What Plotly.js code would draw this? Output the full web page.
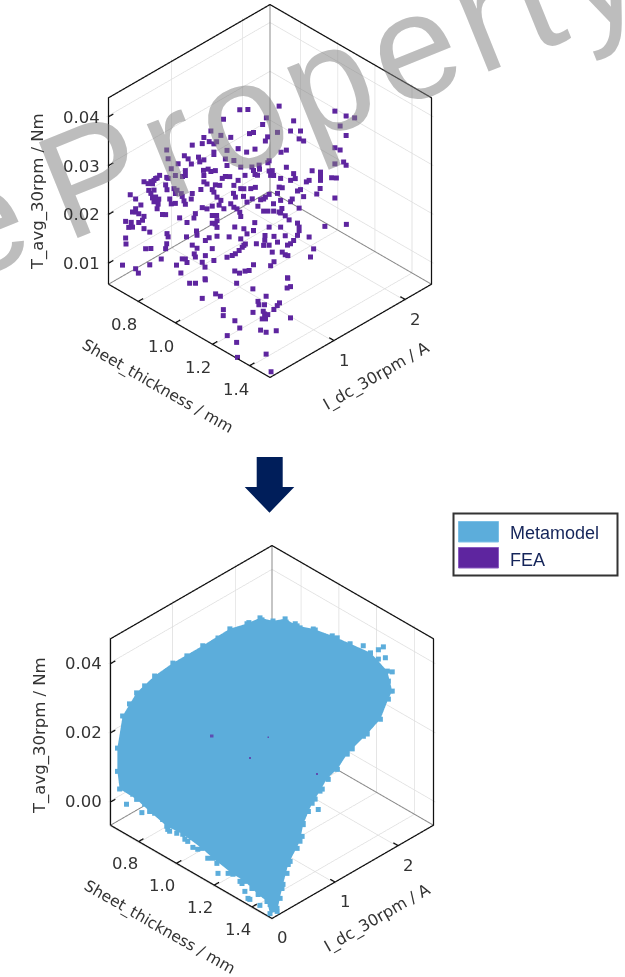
<!DOCTYPE html>
<html><head><meta charset="utf-8"><script src="https://cdn.plot.ly/plotly-3.0.1.min.js"></script>
<style>html,body{margin:0;padding:0;background:#fff}</style></head><body><div id="c" style="width:625px;height:977px"></div>
<script>
const W=625,H=977;
const xTitle='Sheet_thickness / mm',yTitle='I_dc_30rpm / A',zTitle='T_avg_30rpm / Nm';
const sheetTicks=[0.8,1.0,1.2,1.4];
const idcTicks1=[1,2],idcTicks2=[0,1,2];
const torqueTicks1=[0.01,0.02,0.03,0.04],torqueTicks2=[0,0.02,0.04];
const range1={x:[0.64,1.51],y:[0.1,2.37],z:[0.0057,0.0439]};
const range2={x:[0.651,1.506],y:[0,2.56],z:[-0.0067,0.0472]};

// FEA samples, upper chart
const feaSheet=[.994,1.015,1.099,1.250,1.280,1.303,1.263,.949,1.065,1.056,
1.139,1.130,1.157,1.094,1.280,1.020,1.030,1.068,1.063,.915,
.942,.969,.897,.892,.910,.924,.931,.865,1.153,1.166,
1.250,1.263,.989,.960,1.012,1.034,1.105,1.119,.924,.924,
.796,.800,.845,.854,.883,.897,.886,.864,.955,.978,
1.072,1.069,1.250,1.274,1.280,.996,.960,1.025,1.030,1.045,
1.047,1.119,1.189,1.211,1.211,1.211,1.139,1.240,1.254,.809,
.827,.847,.820,.839,.847,.796,.800,.895,.908,.928,
.897,.915,.946,.955,.967,.989,1.007,1.034,1.040,1.072,
1.081,1.076,1.085,1.103,1.130,1.144,1.180,1.173,.777,.767,
.762,.753,.735,.746,.758,.771,.749,.762,.753,.758,
.767,.776,.762,.773,.771,.699,.713,.794,.798,.816,
.825,.820,.836,.838,.805,.809,.820,.843,.847,.865,
.863,.888,.897,.906,.928,.919,.924,.940,.933,.942,
.951,.978,.976,.982,.996,1.005,1.003,1.023,1.036,1.014,
1.027,1.042,1.058,1.049,1.072,1.063,1.094,1.099,1.108,1.157,
1.148,1.135,1.130,1.166,1.198,1.209,1.250,1.084,1.103,1.106,
1.099,1.103,1.058,1.069,1.085,1.153,.969,.978,.987,.994,
.996,.937,.919,.931,.933,.928,.919,.933,.892,.906,
.919,.874,.870,.831,.852,.785,.794,.726,.713,.704,
.722,.713,.735,.731,.722,.701,.686,.695,.704,.735,
.751,1.117,1.126,1.148,1.153,1.033,.979,1.005,1.014,1.030,
1.072,1.103,1.223,1.281,.876,.879,.849,.686,.688,.798,
.800,.796,.794,.740,.753,.933,.910,.901,.964,.996,
1.009,1.005,1.000,.991,.982,.973,.960,1.061,1.060,1.072,
1.058,1.038,1.094,1.083,1.117,1.153,1.148,1.180,1.139,1.130,
1.121,.865,.883,.919,.901,.872,.874,.847,.838,.852,
.782,.751,.677,.713,.720,.822,.834,.892,.899,.924,
.979,.993,1.007,1.018,1.030,1.083,1.076,1.081,1.108,1.117,
1.123,1.193,1.184,1.121,.899,
.878,.894,.905,1.005,1.075,1.119,1.163,1.166,.983,.998,1.022,1.145,1.147,1.165,1.18,1.212,1.219,1.228,1.092,1.12,
1.185,1.207,1.224,1.235,1.24,1.249,1.312,1.175,1.222,1.288,1.313,1.333,1.224,1.281,1.415,1.333,1.504];
const feaIdc=[1.02,1.08,1.30,1.69,1.77,1.83,1.73,.91,1.21,1.18,
1.40,1.38,1.45,1.29,1.77,1.09,1.12,1.22,1.20,.82,
.89,.96,.77,.76,.81,.84,.86,.69,1.44,1.47,
1.69,1.73,1.01,.93,1.07,1.13,1.31,1.35,.84,.84,
.51,.52,.63,.66,.73,.77,.74,.68,.92,.98,
1.23,1.22,1.69,1.75,1.77,1.03,.93,1.11,1.12,1.16,
1.16,1.35,1.53,1.59,1.59,1.59,1.40,1.67,1.70,.54,
.59,.64,.57,.62,.64,.51,.52,.77,.80,.85,
.77,.82,.90,.92,.95,1.01,1.06,1.13,1.15,1.23,
1.25,1.24,1.26,1.31,1.38,1.41,1.51,1.49,.46,.43,
.42,.40,.35,.38,.41,.44,.38,.42,.40,.41,
.43,.45,.42,.45,.44,.25,.29,.50,.51,.56,
.58,.57,.61,.62,.53,.54,.57,.63,.64,.69,
.68,.75,.77,.79,.85,.83,.84,.88,.86,.89,
.91,.98,.98,.99,1.03,1.05,1.05,1.10,1.13,1.07,
1.11,1.15,1.19,1.17,1.23,1.20,1.29,1.30,1.32,1.45,
1.43,1.39,1.38,1.47,1.57,1.59,1.69,1.26,1.31,1.32,
1.30,1.31,1.19,1.22,1.26,1.44,.96,.98,1.00,1.02,
1.03,.88,.83,.86,.86,.85,.83,.86,.76,.79,
.83,.71,.70,.60,.65,.48,.50,.33,.29,.27,
.31,.29,.35,.34,.31,.26,.22,.24,.27,.35,
.39,1.34,1.37,1.43,1.44,1.13,.99,1.05,1.07,1.12,
1.23,1.31,1.62,1.77,.72,.72,.65,.22,.22,.51,
.52,.51,.50,.36,.40,.86,.81,.78,.95,1.03,
1.06,1.05,1.04,1.02,.99,.97,.93,1.20,1.20,1.23,
1.19,1.14,1.29,1.27,1.34,1.44,1.43,1.51,1.40,1.38,
1.36,.69,.71,.83,.78,.70,.71,.64,.62,.65,
.47,.39,.20,.29,.31,.58,.61,.76,.78,.84,
.99,1.02,1.06,1.09,1.12,1.27,1.24,1.25,1.32,1.34,
1.36,1.54,1.52,1.36,.78,
.618,.66,.77,.948,.994,1.369,1.246,1.286,.522,.671,.675,.997,.878,.843,.883,1.011,.961,.89,.534,.459,
.708,.795,.77,.786,.695,.717,.905,.479,.426,.546,.559,.649,.244,.228,.293,.105,.13];
const feaTorque=[.0415,.0415,.0422,.0412,.0402,.0398,.0381,.0395,.0398,.0385,
.0392,.0371,.0371,.0368,.0362,.0366,.0368,.0359,.0351,.0371,
.0362,.0358,.0358,.0345,.0349,.0345,.0349,.0342,.0355,.0351,
.0337,.0332,.0335,.0332,.0328,.0334,.0328,.0332,.0328,.0323,
.0332,.0314,.0321,.0314,.0318,.0312,.0308,.0304,.0314,.0311,
.0310,.0306,.0304,.0308,.0301,.0297,.0301,.0297,.0290,.0301,
.0293,.0297,.0290,.0287,.0278,.0270,.0284,.0275,.0275,.0294,
.0304,.0290,.0280,.0278,.0280,.0276,.0274,.0290,.0293,.0290,
.0280,.0288,.0274,.0278,.0278,.0270,.0280,.0282,.0280,.0289,
.0290,.0280,.0280,.0274,.0270,.0274,.0270,.0267,.0280,.0274,
.0270,.0267,.0267,.0263,.0263,.0275,.0250,.0250,.0243,.0234,
.0236,.0232,.0226,.0221,.0212,.0241,.0232,.0261,.0251,.0253,
.0250,.0243,.0243,.0237,.0232,.0222,.0223,.0228,.0221,.0243,
.0232,.0251,.0267,.0263,.0261,.0251,.0246,.0260,.0236,.0229,
.0212,.0260,.0243,.0236,.0253,.0253,.0237,.0253,.0256,.0226,
.0232,.0217,.0232,.0230,.0241,.0236,.0243,.0256,.0255,.0251,
.0248,.0232,.0226,.0237,.0241,.0253,.0234,.0222,.0229,.0212,
.0205,.0203,.0207,.0207,.0207,.0213,.0222,.0215,.0212,.0205,
.0196,.0219,.0198,.0198,.0188,.0181,.0182,.0174,.0214,.0212,
.0217,.0202,.0193,.0193,.0184,.0200,.0200,.0219,.0212,.0205,
.0202,.0205,.0196,.0188,.0184,.0184,.0186,.0174,.0174,.0171,
.0164,.0198,.0189,.0182,.0174,.0183,.0174,.0171,.0161,.0167,
.0174,.0174,.0176,.0180,.0166,.0158,.0154,.0152,.0140,.0161,
.0154,.0140,.0130,.0130,.0130,.0156,.0152,.0147,.0154,.0150,
.0140,.0137,.0133,.0126,.0120,.0116,.0113,.0157,.0147,.0137,
.0137,.0140,.0143,.0154,.0157,.0167,.0157,.0154,.0147,.0140,
.0137,.0137,.0133,.0130,.0116,.0120,.0113,.0109,.0109,.0102,
.0109,.0097,.0096,.0089,.0080,.0096,.0080,.0102,.0092,.0106,
.0084,.0080,.0084,.0085,.0097,.0102,.0095,.0123,.0123,.0118,
.0116,.0130,.0113,.0070,.0068,
.0068,.0068,.0068,.0068,.0068,.0068,.0068,.0068,.0068,.0068,.0068,.0068,.0068,.0068,.0068,.0068,.0068,.0068,.0068,.0068,
.0068,.0068,.0068,.0068,.0068,.0068,.0068,.0068,.0068,.0068,.0068,.0068,.0068,.0068,.0068,.0059,.0065];

// Metamodel cloud outline, lower chart
const metaSheet=[.876,.910,.942,.974,1.017,1.067,1.114,1.211,1.298,1.311,1.301,1.28,1.245,1.205,1.192,1.166,1.139,1.12,1.142,1.178,1.243,1.318,1.412,1.504,1.492,1.432,1.376,1.281,1.217,1.090,1.016,.900,.821,.754,.720,.675,.669,.669,.683,.72,.768,.816,.895,.881,.884];
const metaIdc=[1.696,1.80,1.896,1.99,2.118,2.269,2.412,2.444,2.45,2.49,2.458,2.395,2.291,2.172,2.132,2.053,1.974,1.917,1.725,1.476,1.231,.819,.44,.086,.01,.142,.168,.243,.246,.307,.355,.398,.381,.31,.206,.072,.055,.055,.096,.206,.349,.493,.731,1.202,1.466];
const metaTorque=[.0425,.0416,.0422,.0402,.0393,.0373,.035,.0351,.0325,.0267,.0244,.0186,.0143,.0100,.0085,.0041,.0015,-.0022,-.0030,-.0054,-.0056,-.0056,-.0056,-.0056,-.0058,-.0056,-.0056,-.0056,-.0056,-.0056,-.0056,-.0056,-.0056,-.0027,.0008,.0038,.0089,.0156,.0249,.0316,.0365,.0402,.0452,.0447,.0435];
const metaCentre=[1.020,1.105,.0177];
// Metamodel samples along and out of the cloud edge
const edgeSheet=[.846,.881,.945,.969,.982,1.022,1.08,1.232,1.245,1.259,1.232,1.294,1.289,1.27,1.257,1.158,.987,.734,.693,.838,.929,1.173,1.2,1.377,1.431,1.48,1.327,1.077,.865,1.268,
.710,.741,.768,.789,.852,.880,.946,1.009,1.082,1.124,1.142,1.223,1.283,1.332,1.367,1.382,1.454,
1.142,1.126,1.15,1.149,1.170,1.226,1.268,1.309,1.356,1.396,1.452,1.49,
.701,.741,.853,.893,1.166,1.301,1.272,1.235];
const edgeIdc=[1.609,1.713,1.903,1.975,2.015,2.134,2.309,2.506,2.546,2.537,2.506,2.541,2.525,2.469,2.429,1.774,.298,.247,.127,.346,.346,.14,.219,.035,.032,.095,.105,.266,.457,.204,
.175,.27,.349,.413,.335,.364,.34,.31,.282,.269,.374,.291,.192,.202,.035,.212,.125,
1.981,1.934,1.75,1.644,1.501,1.316,1.11,.876,.687,.504,.289,.127,
.151,.27,.604,.979,2.464,2.458,2.371,2.259];
const edgeTorque=[.0411,.0419,.0413,.0408,.0396,.039,.0367,.036,.0368,.0342,.0333,.0312,.0256,.0228,.0178,-.0048,-.0056,-.003,-.0006,-.0056,-.0056,-.0056,-.0056,-.0056,-.0056,-.0056,-.0056,-.0056,-.0056,-.0056,
.0023,-.0006,-.0032,-.005,-.0056,-.0056,-.0056,-.0056,-.0056,-.0056,-.0056,-.0056,-.0056,-.0056,-.0056,-.0056,-.0056,
.0012,-.0016,-.0018,-.0043,-.0056,-.0056,-.0056,-.0056,-.0056,-.0056,-.0056,-.0056,
.0284,.0336,.0423,.0448,.0355,.0296,.0210,.0137];
// FEA samples that show through the cloud, lower chart
const fea2Sheet=[.962,1.111,1.063,1.241],fea2Idc=[.675,1.12,.977,1.51],fea2Torque=[.0218,.0215,.0154,.0108];

const BLUE='#5CADDB',PURPLE='#5E259F',TXT='#333',FONT='DejaVu Sans',FS=16.5,ASPECT=1.214*1.012*0.99;
const pad=r=>{const m=(r[1]-r[0])*0.006;return [r[0]-m,r[1]+m];};

function frame(R,scene){const [a,b]=R.x,[c,d]=R.y,[e,f]=R.z;
 return [
 {type:'scatter3d',scene,mode:'lines',x:[a,a,null,a,b,null,a,a],y:[d,d,null,d,d,null,d,c],z:[f,e,null,e,e,null,e,e],line:{color:'#8a8a8a',width:2},hoverinfo:'skip',showlegend:false},
 {type:'scatter3d',scene,mode:'lines',x:[a,a,a,b,b,b,a],y:[c,c,d,d,d,c,c],z:[e,f,f,f,e,e,e],line:{color:'#111',width:2.5},hoverinfo:'skip',showlegend:false}];}
function tickMarks(R,scene,xt,yt,zt){const X=[],Y=[],Z=[];
 const dy=(R.y[1]-R.y[0])*0.03,dx=(R.x[1]-R.x[0])*0.03;
 xt.forEach(v=>{X.push(v,v,null);Y.push(R.y[0],R.y[0]+dy,null);Z.push(R.z[0],R.z[0],null);});
 yt.forEach(v=>{X.push(R.x[1],R.x[1]-dx,null);Y.push(v,v,null);Z.push(R.z[0],R.z[0],null);});
 zt.forEach(v=>{X.push(R.x[0],R.x[0],null);Y.push(R.y[0],R.y[0]+dy,null);Z.push(v,v,null);});
 return {type:'scatter3d',scene,mode:'lines',x:X,y:Y,z:Z,line:{color:'#111',width:2.5},hoverinfo:'skip',showlegend:false};}

const fanI=[],fanJ=[],fanK=[];const nMeta=metaSheet.length;
for(let n=0;n<nMeta;n++){fanI.push(nMeta);fanJ.push(n);fanK.push((n+1)%nMeta);}

const traces=[
 ...frame(range1,'scene'),tickMarks(range1,'scene',sheetTicks,idcTicks1,torqueTicks1),
 {type:'scatter3d',scene:'scene',name:'FEA',mode:'markers',x:feaSheet,y:feaIdc,z:feaTorque,marker:{size:2.6,symbol:'square',color:PURPLE,line:{width:0}}},
 ...frame(range2,'scene2'),tickMarks(range2,'scene2',sheetTicks,idcTicks2,torqueTicks2),
 {type:'mesh3d',scene:'scene2',name:'Metamodel',x:metaSheet.concat(metaCentre[0]),y:metaIdc.concat(metaCentre[1]),z:metaTorque.concat(metaCentre[2]),i:fanI,j:fanJ,k:fanK,color:BLUE,opacity:1,flatshading:true,lighting:{ambient:1,diffuse:0,specular:0,fresnel:0,roughness:1},showscale:false,hoverinfo:'skip'},
 {type:'scatter3d',scene:'scene2',name:'Metamodel',mode:'markers',x:metaSheet.concat(edgeSheet),y:metaIdc.concat(edgeIdc),z:metaTorque.concat(edgeTorque),marker:{size:2.6,symbol:'square',color:BLUE,line:{width:0}}},
 {type:'scatter3d',scene:'scene2',name:'FEA',mode:'markers',x:fea2Sheet,y:fea2Idc,z:fea2Torque,marker:{size:[3.4,1.6,2.2,2],symbol:'square',color:PURPLE,line:{width:0}}}
];
const axis=(r,t)=>({range:pad(r),tickvals:t,showticklabels:false,title:{text:''},showspikes:false,showbackground:false,gridcolor:'#dcdcdc',gridwidth:1.5,zeroline:false,showline:false,ticks:''});
const label=(x,y,z,text,xs,ys,ang,fs)=>({x,y,z,text,showarrow:false,xshift:xs,yshift:ys,textangle:ang||0,font:{family:FONT,size:fs||FS,color:TXT}});
function labels(R,xt,yt,zt,s){
 const o=[];
 xt.forEach(v=>o.push(label(v,R.y[0],R.z[0],v.toFixed(1),-14,-23)));
 yt.forEach(v=>o.push(label(R.x[1],v,R.z[0],String(v),10,-20)));
 zt.forEach(v=>o.push(label(R.x[0],R.y[0],v,v.toFixed(2),-27,0)));
 o.push(label((R.x[0]+R.x[1])/2,R.y[0],R.z[0],xTitle,s[0],s[1],30,15.5));
 o.push(label(R.x[1],(R.y[0]+R.y[1])/2,R.z[0],yTitle,s[2],s[3],-30,16));
 o.push(label(R.x[0],R.y[0],(R.z[0]+R.z[1])/2,zTitle,s[4],s[5],-90));
 return o;}
const scene=(cx,cy,R,xt,yt,zt,s)=>({domain:{x:[(cx-190)/W,(cx+190)/W],y:[1-(cy+190)/H,1-(cy-190)/H]},aspectmode:'manual',aspectratio:{x:ASPECT,y:ASPECT,z:ASPECT},bgcolor:'rgba(0,0,0,0)',
 camera:{projection:{type:'orthographic'},eye:{x:1,y:-1,z:1},center:{x:0,y:0,z:0},up:{x:0,y:0,z:1}},
 xaxis:axis(R.x,xt),yaxis:axis(R.y,yt),zaxis:axis(R.z,zt),annotations:labels(R,xt,yt,zt,s)});
const px=x=>x/W,py=y=>1-y/H;
const rect=(x0,y0,x1,y1,fill,line,w)=>({type:'rect',xref:'paper',yref:'paper',x0:px(x0),x1:px(x1),y0:py(y0),y1:py(y1),fillcolor:fill,line:{color:line,width:w}});
const arrowPts=[[256.7,457],[282.7,457],[282.7,487],[294.3,487],[269.5,512.7],[244.7,487],[256.7,487]];
const layout={width:W,height:H,margin:{l:0,r:0,t:0,b:0},showlegend:false,paper_bgcolor:'#fff',
 scene:scene(270,191.5,range1,sheetTicks,idcTicks1,torqueTicks1,[-32,-55,26,-45,-70,0]),
 scene2:scene(272,731.5,range2,sheetTicks,idcTicks2,torqueTicks2,[-32,-56,25,-47,-71,-4]),
 shapes:[
  {type:'path',xref:'paper',yref:'paper',path:'M'+arrowPts.map(p=>px(p[0])+','+py(p[1])).join('L')+'Z',fillcolor:'#001E5A',line:{width:0}},
  rect(453.5,513.5,617.5,575.5,'#fff','#333',2),
  rect(458.5,521.5,498.5,542,BLUE,'#7cc0e6',1),
  rect(458.5,547.5,498.5,568,PURPLE,'#8a5cc0',1)],
 annotations:[
  {xref:'paper',yref:'paper',x:px(508),y:py(533),xanchor:'left',yanchor:'middle',text:'Metamodel',showarrow:false,font:{family:'Liberation Sans',size:18,color:'#15255A'}},
  {xref:'paper',yref:'paper',x:px(508),y:py(560),xanchor:'left',yanchor:'middle',text:'FEA',showarrow:false,font:{family:'Liberation Sans',size:18,color:'#15255A'}},
  {xref:'paper',yref:'paper',x:px(72),y:py(184),xanchor:'center',yanchor:'middle',text:'Sample Property',textangle:-22,showarrow:false,font:{family:'Liberation Sans',size:150,color:'rgba(128,128,128,0.52)'}}
 ]};
Plotly.newPlot('c',traces,layout,{displayModeBar:false}).then(()=>{
 document.querySelectorAll('.annotation-text').forEach(t=>{if(t.textContent.indexOf('Sample')>=0){t.style.letterSpacing='9px';t.style.wordSpacing='-30px';}});
});
</script></body></html>
